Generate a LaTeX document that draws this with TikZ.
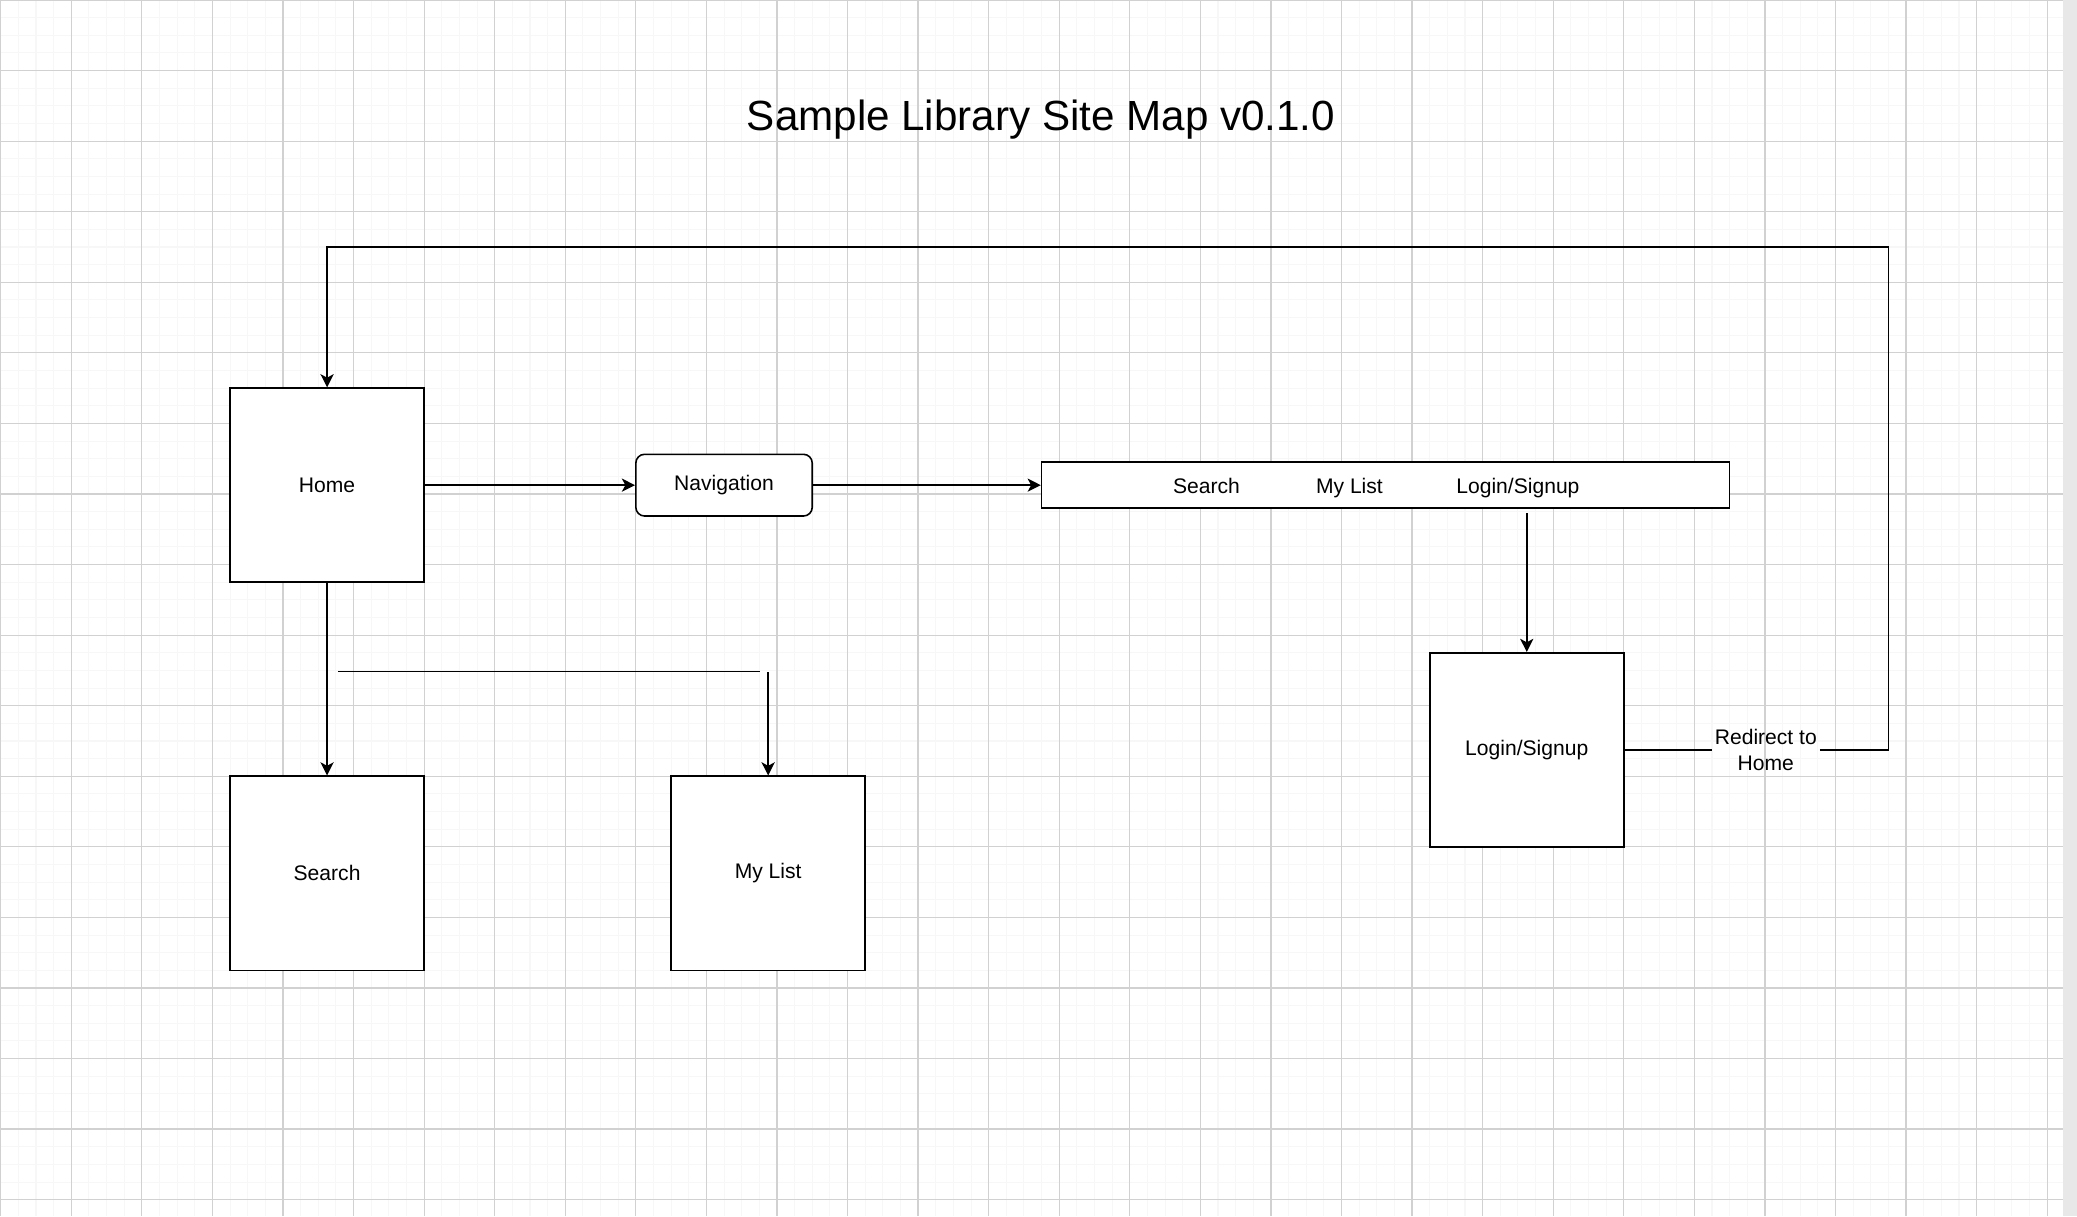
\documentclass[tikz,border=0pt]{standalone}
\usepackage{fontspec}
\setmainfont{Liberation Sans}
\usetikzlibrary{arrows.meta}

\newcommand{\labelFont}{\fontsize{12}{15}\selectfont}
\newcommand{\titleFont}{\fontsize{24}{28}\selectfont}

\tikzset{
	minorGrid/.style={black!3, line width=0.6pt},
	majorGrid/.style={black!18, line width=0.7pt},
	pageBox/.style={draw, line width=0.9pt, fill=white, minimum width=\pageBoxSize cm, minimum height=\pageBoxSize cm, font=\labelFont},
	navBox/.style={draw, line width=0.9pt, fill=white, rounded corners=5pt, minimum width=\navBoxWidth cm, minimum height=\navBoxHeight cm, font=\labelFont},
	barBox/.style={draw, line width=0.9pt, fill=white, minimum width=\barWidth cm, minimum height=\barHeight cm},
	plainText/.style={font=\labelFont, text height=1.6ex, text depth=0.45ex},
	edgeLabel/.style={font=\labelFont, align=center, inner xsep=1.5pt},
	link/.style={line width=0.9pt}
}

\begin{document}
\begin{tikzpicture}[x=0.35284cm, y=-0.35284cm]
			\begin{scope}[>={Stealth[length=7.5pt, width=7.5pt, inset=2pt]}] %classic arrow tips
			\pgfmathsetmacro\cellSize{(0.35284)}
			\pgfmathsetmacro\pageBoxSize{(\cellSize * 11)}
			\pgfmathsetmacro\navBoxWidth{(\cellSize * 10)}
			\pgfmathsetmacro\navBoxHeight{(\cellSize * 3.5)}
			\pgfmathsetmacro\barWidth{(\cellSize * 39)}
			\pgfmathsetmacro\barHeight{(\cellSize * 2.6)}
			
			\pgfmathsetmacro\pageRight{116.92}
			\pgfmathsetmacro\pageBottom{68.93}
			
			\useasboundingbox (-0.04, 0) rectangle (117.69, \pageBottom);
			
			%grid paper
			\fill[white] (-0.04, 0) rectangle (\pageRight, \pageBottom);
			\fill[black!9] (\pageRight, 0) rectangle (117.69, \pageBottom);
			\foreach \k in {0, ..., 116}{
				\draw[minorGrid] (\k, 0) -- (\k, \pageBottom);
			}
			\foreach \k in {0, ..., 68}{
				\draw[minorGrid] (-0.04, \k) -- (\pageRight, \k);
			}
			\foreach \k in {0, 4, ..., 116}{
				\draw[majorGrid] (\k, 0) -- (\k, \pageBottom);
			}
			\foreach \k in {0, 4, ..., 68}{
				\draw[majorGrid] (-0.04, \k) -- (\pageRight, \k);
			}
			
			\node (title) at (58.97, 6.8) {\titleFont Sample Library Site Map v0.1.0};
			
			\node (home) at (18.5, 27.5) [pageBox] {Home};
			\node (search) at (18.5, 49.5) [pageBox] {Search};
			\node (myList) at (43.5, 49.5) [pageBox] {My List};
			\node (login) at (86.5, 42.5) [pageBox] {Login/Signup};
			
			\node (nav) at (41, 27.5) [navBox] {Navigation};
			\node (navBar) at (78.5, 27.5) [barBox] {};
			\node (barSearch) at (68.35, 27.65) [plainText] {Search};
			\node (barMyList) at (76.45, 27.65) [plainText] {My List};
			\node (barLogin) at (86, 27.65) [plainText] {Login/Signup};
			
			\node (redirectText) at (100.05, 42.5) [edgeLabel] {Redirect to\\Home};
			
			\coordinate (barDrop) at (86.5, 29.1);
			\coordinate (splitStart) at (19.11, 38.07);
			\coordinate (splitEnd) at (43.02, 38.07);
			\coordinate (splitDrop) at (43.5, 38.1);
			\coordinate (loopCorner) at (107, 14);
			
			\draw[->, link] (home) -- (nav);
			\draw[->, link] (nav) -- (navBar);
			\draw[->, link] (barDrop) -- (login);
			\draw[->, link] (home) -- (search);
			
			\draw[link] (splitStart) -- (splitEnd);
			\draw[->, link] (splitDrop) -- (myList);
			
			%redirect back to home
			\draw[link] (login) -- (redirectText);
			\draw[->, link] (redirectText) -| (loopCorner) -| (home);
			
			\end{scope}
\end{tikzpicture}
\end{document}
